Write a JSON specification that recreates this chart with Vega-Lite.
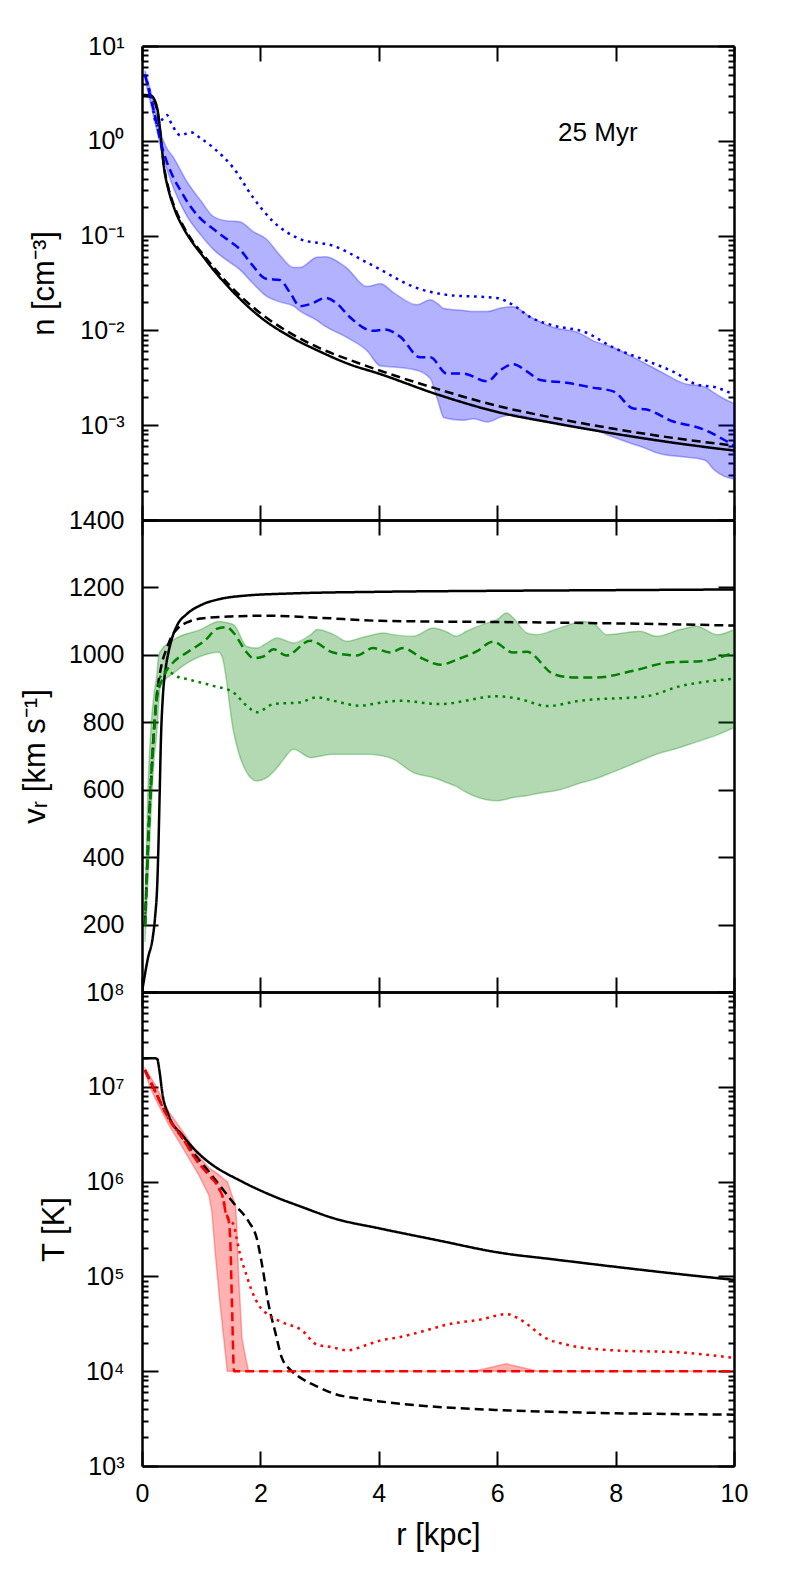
{
  "$schema": "https://vega.github.io/schema/vega-lite/v6.json",
  "autosize": {"type": "pad"},
  "padding": {"left": 19, "top": 34, "right": 5, "bottom": 5},
  "config": {
    "font": "Liberation Sans",
    "view": {"stroke": null},
    "axis": {
      "grid": false,
      "domainColor": "black",
      "domainWidth": 2.5,
      "tickColor": "black",
      "tickWidth": 2,
      "labelFont": "Liberation Sans",
      "labelFontSize": 25,
      "labelColor": "black",
      "labelFlush": false,
      "labelOverlap": false,
      "titleFont": "Liberation Sans",
      "titleFontSize": 31,
      "titleFontWeight": "normal",
      "titleColor": "black"
    }
  },
  "resolve": {"scale": {"color": "independent", "strokeDash": "independent"}},
  "datasets": {
    "nlines": [
      {"x": 0, "y": 3.05, "s": "a"}, {"x": 0.15, "y": 3.0, "s": "a"}, {"x": 0.25, "y": 2.3, "s": "a"}, {"x": 0.3, "y": 1.4, "s": "a"}, {"x": 0.33, "y": 0.9, "s": "a"}, {"x": 0.37, "y": 0.53, "s": "a"}, {"x": 0.45, "y": 0.3, "s": "a"}, {"x": 0.55, "y": 0.19, "s": "a"}, {"x": 0.7, "y": 0.12, "s": "a"}, {"x": 0.85, "y": 0.085, "s": "a"}, {"x": 1.0, "y": 0.064, "s": "a"}, {"x": 1.2, "y": 0.044, "s": "a"}, {"x": 1.5, "y": 0.027, "s": "a"}, {"x": 2.0, "y": 0.0138, "s": "a"}, {"x": 2.5, "y": 0.0086, "s": "a"}, {"x": 3.0, "y": 0.006, "s": "a"}, {"x": 3.5, "y": 0.0044, "s": "a"}, {"x": 4.0, "y": 0.0035, "s": "a"}, {"x": 5.0, "y": 0.0021, "s": "a"}, {"x": 6.0, "y": 0.00138, "s": "a"}, {"x": 7.0, "y": 0.00104, "s": "a"}, {"x": 8.0, "y": 0.00081, "s": "a"}, {"x": 9.0, "y": 0.00065, "s": "a"}, {"x": 10, "y": 0.00054, "s": "a"},
      {"x": 0, "y": 3.0, "s": "b"}, {"x": 0.15, "y": 2.9, "s": "b"}, {"x": 0.25, "y": 2.2, "s": "b"}, {"x": 0.3, "y": 1.35, "s": "b"}, {"x": 0.33, "y": 0.9, "s": "b"}, {"x": 0.37, "y": 0.55, "s": "b"}, {"x": 0.45, "y": 0.31, "s": "b"}, {"x": 0.55, "y": 0.2, "s": "b"}, {"x": 0.7, "y": 0.125, "s": "b"}, {"x": 0.85, "y": 0.088, "s": "b"}, {"x": 1.0, "y": 0.067, "s": "b"}, {"x": 1.2, "y": 0.047, "s": "b"}, {"x": 1.5, "y": 0.029, "s": "b"}, {"x": 2.0, "y": 0.0152, "s": "b"}, {"x": 2.5, "y": 0.0094, "s": "b"}, {"x": 3.0, "y": 0.0065, "s": "b"}, {"x": 3.5, "y": 0.0049, "s": "b"}, {"x": 4.0, "y": 0.0038, "s": "b"}, {"x": 5.0, "y": 0.0024, "s": "b"}, {"x": 6.0, "y": 0.0016, "s": "b"}, {"x": 7.0, "y": 0.00118, "s": "b"}, {"x": 8.0, "y": 0.00091, "s": "b"}, {"x": 9.0, "y": 0.00073, "s": "b"}, {"x": 10, "y": 0.00061, "s": "b"},
      {"x": 0.05, "y": 5.0, "s": "c"}, {"x": 0.15, "y": 2.8, "s": "c"}, {"x": 0.25, "y": 1.5, "s": "c"}, {"x": 0.31, "y": 1.0, "s": "c"}, {"x": 0.4, "y": 0.65, "s": "c"}, {"x": 0.53, "y": 0.41, "s": "c"}, {"x": 0.65, "y": 0.3, "s": "c"}, {"x": 0.76, "y": 0.23, "s": "c"}, {"x": 0.95, "y": 0.16, "s": "c"}, {"x": 1.2, "y": 0.118, "s": "c"}, {"x": 1.45, "y": 0.09, "s": "c"}, {"x": 1.65, "y": 0.072, "s": "c"}, {"x": 1.85, "y": 0.05, "s": "c"}, {"x": 2.1, "y": 0.035, "s": "c"}, {"x": 2.33, "y": 0.034, "s": "c"}, {"x": 2.5, "y": 0.025, "s": "c"}, {"x": 2.67, "y": 0.018, "s": "c"}, {"x": 2.85, "y": 0.019, "s": "c"}, {"x": 3.1, "y": 0.022, "s": "c"}, {"x": 3.3, "y": 0.019, "s": "c"}, {"x": 3.5, "y": 0.014, "s": "c"}, {"x": 3.9, "y": 0.0099, "s": "c"}, {"x": 4.1, "y": 0.0102, "s": "c"}, {"x": 4.36, "y": 0.0086, "s": "c"}, {"x": 4.7, "y": 0.0052, "s": "c"}, {"x": 4.87, "y": 0.0052, "s": "c"}, {"x": 5.15, "y": 0.0035, "s": "c"}, {"x": 5.43, "y": 0.0035, "s": "c"}, {"x": 5.83, "y": 0.0029, "s": "c"}, {"x": 6.05, "y": 0.0038, "s": "c"}, {"x": 6.27, "y": 0.0044, "s": "c"}, {"x": 6.5, "y": 0.0037, "s": "c"}, {"x": 6.73, "y": 0.003, "s": "c"}, {"x": 7.18, "y": 0.0028, "s": "c"}, {"x": 7.6, "y": 0.0025, "s": "c"}, {"x": 7.97, "y": 0.00226, "s": "c"}, {"x": 8.3, "y": 0.0015, "s": "c"}, {"x": 8.5, "y": 0.00147, "s": "c"}, {"x": 8.96, "y": 0.0011, "s": "c"}, {"x": 9.47, "y": 0.00091, "s": "c"}, {"x": 9.8, "y": 0.00072, "s": "c"}, {"x": 10, "y": 0.00061, "s": "c"},
      {"x": 0.05, "y": 5.0, "s": "d"}, {"x": 0.15, "y": 3.0, "s": "d"}, {"x": 0.25, "y": 1.45, "s": "d"}, {"x": 0.35, "y": 1.7, "s": "d"}, {"x": 0.42, "y": 1.87, "s": "d"}, {"x": 0.5, "y": 1.5, "s": "d"}, {"x": 0.65, "y": 1.14, "s": "d"}, {"x": 0.82, "y": 1.23, "s": "d"}, {"x": 1.0, "y": 1.05, "s": "d"}, {"x": 1.2, "y": 0.85, "s": "d"}, {"x": 1.54, "y": 0.52, "s": "d"}, {"x": 1.88, "y": 0.25, "s": "d"}, {"x": 2.22, "y": 0.14, "s": "d"}, {"x": 2.67, "y": 0.092, "s": "d"}, {"x": 3.23, "y": 0.078, "s": "d"}, {"x": 3.8, "y": 0.052, "s": "d"}, {"x": 4.02, "y": 0.044, "s": "d"}, {"x": 4.58, "y": 0.029, "s": "d"}, {"x": 5.15, "y": 0.0237, "s": "d"}, {"x": 5.99, "y": 0.022, "s": "d"}, {"x": 6.3, "y": 0.018, "s": "d"}, {"x": 6.55, "y": 0.0139, "s": "d"}, {"x": 6.94, "y": 0.0113, "s": "d"}, {"x": 7.5, "y": 0.0095, "s": "d"}, {"x": 7.96, "y": 0.0066, "s": "d"}, {"x": 8.52, "y": 0.0048, "s": "d"}, {"x": 9.0, "y": 0.0036, "s": "d"}, {"x": 9.36, "y": 0.0027, "s": "d"}, {"x": 9.7, "y": 0.0025, "s": "d"}, {"x": 10, "y": 0.0021, "s": "d"}
    ],
    "nband": [
      {"x": 0.05, "lo": 4.5, "hi": 5.5}, {"x": 0.15, "lo": 2.4, "hi": 3.3}, {"x": 0.25, "lo": 1.3, "hi": 1.8}, {"x": 0.31, "lo": 0.9, "hi": 1.25}, {"x": 0.4, "lo": 0.55, "hi": 0.88}, {"x": 0.53, "lo": 0.32, "hi": 0.67}, {"x": 0.76, "lo": 0.16, "hi": 0.37}, {"x": 1.0, "lo": 0.1, "hi": 0.23}, {"x": 1.2, "lo": 0.072, "hi": 0.16}, {"x": 1.43, "lo": 0.055, "hi": 0.143}, {"x": 1.65, "lo": 0.044, "hi": 0.14}, {"x": 1.88, "lo": 0.031, "hi": 0.11}, {"x": 2.1, "lo": 0.023, "hi": 0.092}, {"x": 2.33, "lo": 0.02, "hi": 0.062}, {"x": 2.56, "lo": 0.018, "hi": 0.046}, {"x": 2.67, "lo": 0.016, "hi": 0.046}, {"x": 2.95, "lo": 0.0128, "hi": 0.059}, {"x": 3.1, "lo": 0.011, "hi": 0.06}, {"x": 3.45, "lo": 0.0085, "hi": 0.046}, {"x": 3.8, "lo": 0.0061, "hi": 0.029}, {"x": 4.03, "lo": 0.0042, "hi": 0.031}, {"x": 4.25, "lo": 0.0041, "hi": 0.025}, {"x": 4.64, "lo": 0.0038, "hi": 0.0186}, {"x": 4.87, "lo": 0.0031, "hi": 0.021}, {"x": 5.0, "lo": 0.0018, "hi": 0.019}, {"x": 5.1, "lo": 0.0012, "hi": 0.017}, {"x": 5.43, "lo": 0.00113, "hi": 0.0162}, {"x": 5.6, "lo": 0.00117, "hi": 0.0158}, {"x": 5.83, "lo": 0.00108, "hi": 0.0158}, {"x": 6.06, "lo": 0.00122, "hi": 0.0172}, {"x": 6.27, "lo": 0.0013, "hi": 0.0178}, {"x": 6.55, "lo": 0.0012, "hi": 0.014}, {"x": 6.94, "lo": 0.00106, "hi": 0.0108}, {"x": 7.4, "lo": 0.00095, "hi": 0.0093}, {"x": 7.62, "lo": 0.0009, "hi": 0.0078}, {"x": 7.96, "lo": 0.00075, "hi": 0.0066}, {"x": 8.3, "lo": 0.00063, "hi": 0.0052}, {"x": 8.41, "lo": 0.0006, "hi": 0.0048}, {"x": 8.75, "lo": 0.0005, "hi": 0.0037}, {"x": 9.2, "lo": 0.00046, "hi": 0.0027}, {"x": 9.43, "lo": 0.00044, "hi": 0.0026}, {"x": 9.53, "lo": 0.00042, "hi": 0.0025}, {"x": 9.66, "lo": 0.00034, "hi": 0.0022}, {"x": 9.83, "lo": 0.00029, "hi": 0.0019}, {"x": 10, "lo": 0.00027, "hi": 0.0017}
    ],
    "nlabel": [{"x": 7.7, "y": 0.985, "t": "25 Myr"}],
    "vlines": [
      {"x": 0, "y": 0, "s": "a"}, {"x": 0.1, "y": 100, "s": "a"}, {"x": 0.18, "y": 160, "s": "a"}, {"x": 0.22, "y": 220, "s": "a"}, {"x": 0.26, "y": 330, "s": "a"}, {"x": 0.28, "y": 450, "s": "a"}, {"x": 0.3, "y": 600, "s": "a"}, {"x": 0.32, "y": 750, "s": "a"}, {"x": 0.35, "y": 870, "s": "a"}, {"x": 0.4, "y": 960, "s": "a"}, {"x": 0.45, "y": 1010, "s": "a"}, {"x": 0.5, "y": 1045, "s": "a"}, {"x": 0.6, "y": 1090, "s": "a"}, {"x": 0.75, "y": 1120, "s": "a"}, {"x": 1.0, "y": 1148, "s": "a"}, {"x": 1.3, "y": 1165, "s": "a"}, {"x": 1.7, "y": 1175, "s": "a"}, {"x": 2.5, "y": 1182, "s": "a"}, {"x": 4.0, "y": 1187, "s": "a"}, {"x": 6.0, "y": 1190, "s": "a"}, {"x": 8.0, "y": 1192, "s": "a"}, {"x": 10, "y": 1194, "s": "a"},
      {"x": 0.05, "y": 200, "s": "b"}, {"x": 0.113, "y": 480, "s": "b"}, {"x": 0.17, "y": 680, "s": "b"}, {"x": 0.25, "y": 880, "s": "b"}, {"x": 0.33, "y": 970, "s": "b"}, {"x": 0.42, "y": 1020, "s": "b"}, {"x": 0.5, "y": 1055, "s": "b"}, {"x": 0.6, "y": 1078, "s": "b"}, {"x": 0.76, "y": 1096, "s": "b"}, {"x": 1.0, "y": 1108, "s": "b"}, {"x": 1.5, "y": 1114, "s": "b"}, {"x": 2.1, "y": 1116, "s": "b"}, {"x": 3.0, "y": 1110, "s": "b"}, {"x": 4.02, "y": 1101, "s": "b"}, {"x": 6.84, "y": 1096, "s": "b"}, {"x": 8.5, "y": 1092, "s": "b"}, {"x": 10, "y": 1087, "s": "b"},
      {"x": 0.056, "y": 197, "s": "c"}, {"x": 0.113, "y": 473, "s": "c"}, {"x": 0.17, "y": 670, "s": "c"}, {"x": 0.25, "y": 868, "s": "c"}, {"x": 0.37, "y": 938, "s": "c"}, {"x": 0.53, "y": 978, "s": "c"}, {"x": 0.76, "y": 1007, "s": "c"}, {"x": 1.09, "y": 1047, "s": "c"}, {"x": 1.26, "y": 1077, "s": "c"}, {"x": 1.43, "y": 1082, "s": "c"}, {"x": 1.54, "y": 1067, "s": "c"}, {"x": 1.77, "y": 1007, "s": "c"}, {"x": 1.88, "y": 990, "s": "c"}, {"x": 2.05, "y": 995, "s": "c"}, {"x": 2.22, "y": 1017, "s": "c"}, {"x": 2.44, "y": 998, "s": "c"}, {"x": 2.84, "y": 1042, "s": "c"}, {"x": 3.23, "y": 1007, "s": "c"}, {"x": 3.63, "y": 998, "s": "c"}, {"x": 3.9, "y": 1020, "s": "c"}, {"x": 4.19, "y": 1007, "s": "c"}, {"x": 4.41, "y": 1020, "s": "c"}, {"x": 4.75, "y": 988, "s": "c"}, {"x": 5.04, "y": 971, "s": "c"}, {"x": 5.38, "y": 990, "s": "c"}, {"x": 5.65, "y": 1010, "s": "c"}, {"x": 5.93, "y": 1039, "s": "c"}, {"x": 6.27, "y": 1007, "s": "c"}, {"x": 6.5, "y": 1009, "s": "c"}, {"x": 6.95, "y": 943, "s": "c"}, {"x": 7.28, "y": 933, "s": "c"}, {"x": 7.68, "y": 933, "s": "c"}, {"x": 8.3, "y": 953, "s": "c"}, {"x": 8.92, "y": 978, "s": "c"}, {"x": 9.43, "y": 981, "s": "c"}, {"x": 10, "y": 1007, "s": "c"},
      {"x": 0.056, "y": 230, "s": "d"}, {"x": 0.113, "y": 500, "s": "d"}, {"x": 0.17, "y": 700, "s": "d"}, {"x": 0.25, "y": 880, "s": "d"}, {"x": 0.31, "y": 935, "s": "d"}, {"x": 0.42, "y": 952, "s": "d"}, {"x": 0.6, "y": 935, "s": "d"}, {"x": 0.76, "y": 928, "s": "d"}, {"x": 1.2, "y": 908, "s": "d"}, {"x": 1.54, "y": 889, "s": "d"}, {"x": 1.77, "y": 849, "s": "d"}, {"x": 1.94, "y": 830, "s": "d"}, {"x": 2.22, "y": 854, "s": "d"}, {"x": 2.67, "y": 859, "s": "d"}, {"x": 2.95, "y": 874, "s": "d"}, {"x": 3.23, "y": 864, "s": "d"}, {"x": 3.68, "y": 849, "s": "d"}, {"x": 4.02, "y": 858, "s": "d"}, {"x": 4.36, "y": 864, "s": "d"}, {"x": 5.03, "y": 854, "s": "d"}, {"x": 5.99, "y": 877, "s": "d"}, {"x": 6.38, "y": 869, "s": "d"}, {"x": 6.84, "y": 848, "s": "d"}, {"x": 7.4, "y": 864, "s": "d"}, {"x": 8.52, "y": 877, "s": "d"}, {"x": 9.09, "y": 907, "s": "d"}, {"x": 10, "y": 929, "s": "d"}
    ],
    "vband": [
      {"x": 0.05, "lo": 148, "hi": 250}, {"x": 0.1, "lo": 330, "hi": 600}, {"x": 0.15, "lo": 520, "hi": 780}, {"x": 0.2, "lo": 680, "hi": 880}, {"x": 0.25, "lo": 769, "hi": 940}, {"x": 0.28, "lo": 850, "hi": 996}, {"x": 0.31, "lo": 907, "hi": 1010}, {"x": 0.535, "lo": 946, "hi": 1045}, {"x": 0.99, "lo": 996, "hi": 1075}, {"x": 1.3, "lo": 1008, "hi": 1099}, {"x": 1.35, "lo": 996, "hi": 1098}, {"x": 1.55, "lo": 769, "hi": 1089}, {"x": 1.77, "lo": 651, "hi": 1025}, {"x": 1.94, "lo": 626, "hi": 1020}, {"x": 2.11, "lo": 636, "hi": 1035}, {"x": 2.28, "lo": 665, "hi": 1050}, {"x": 2.39, "lo": 690, "hi": 1045}, {"x": 2.56, "lo": 720, "hi": 1035}, {"x": 2.85, "lo": 695, "hi": 1060}, {"x": 2.96, "lo": 698, "hi": 1075}, {"x": 3.24, "lo": 705, "hi": 1060}, {"x": 3.46, "lo": 705, "hi": 1040}, {"x": 3.69, "lo": 705, "hi": 1050}, {"x": 3.8, "lo": 705, "hi": 1055}, {"x": 4.08, "lo": 700, "hi": 1065}, {"x": 4.25, "lo": 690, "hi": 1060}, {"x": 4.58, "lo": 651, "hi": 1055}, {"x": 4.92, "lo": 636, "hi": 1080}, {"x": 5.15, "lo": 621, "hi": 1068}, {"x": 5.31, "lo": 610, "hi": 1055}, {"x": 5.48, "lo": 592, "hi": 1070}, {"x": 5.82, "lo": 570, "hi": 1094}, {"x": 5.99, "lo": 567, "hi": 1104}, {"x": 6.16, "lo": 572, "hi": 1124}, {"x": 6.27, "lo": 577, "hi": 1110}, {"x": 6.5, "lo": 582, "hi": 1065}, {"x": 6.66, "lo": 588, "hi": 1060}, {"x": 7.06, "lo": 600, "hi": 1080}, {"x": 7.45, "lo": 622, "hi": 1099}, {"x": 7.62, "lo": 630, "hi": 1094}, {"x": 7.85, "lo": 645, "hi": 1060}, {"x": 8.41, "lo": 685, "hi": 1070}, {"x": 8.69, "lo": 705, "hi": 1055}, {"x": 9.09, "lo": 725, "hi": 1075}, {"x": 9.37, "lo": 742, "hi": 1085}, {"x": 9.71, "lo": 762, "hi": 1060}, {"x": 10, "lo": 784, "hi": 1075}
    ],
    "tlines": [
      {"x": 0, "y": 20000000, "s": "a"}, {"x": 0.22, "y": 20000000, "s": "a"}, {"x": 0.26, "y": 19500000, "s": "a"}, {"x": 0.28, "y": 17000000, "s": "a"}, {"x": 0.3, "y": 14000000, "s": "a"}, {"x": 0.34, "y": 8900000, "s": "a"}, {"x": 0.45, "y": 5000000, "s": "a"}, {"x": 0.68, "y": 3100000, "s": "a"}, {"x": 1.0, "y": 1870000, "s": "a"}, {"x": 1.13, "y": 1600000, "s": "a"}, {"x": 1.69, "y": 1000000, "s": "a"}, {"x": 2.25, "y": 690000, "s": "a"}, {"x": 2.7, "y": 540000, "s": "a"}, {"x": 3.24, "y": 410000, "s": "a"}, {"x": 4.02, "y": 320000, "s": "a"}, {"x": 5.0, "y": 240000, "s": "a"}, {"x": 5.99, "y": 180000, "s": "a"}, {"x": 7.0, "y": 150000, "s": "a"}, {"x": 7.96, "y": 127000, "s": "a"}, {"x": 9.0, "y": 107000, "s": "a"}, {"x": 10, "y": 92000, "s": "a"},
      {"x": 0.05, "y": 15000000, "s": "b"}, {"x": 0.225, "y": 8900000, "s": "b"}, {"x": 0.45, "y": 4700000, "s": "b"}, {"x": 0.68, "y": 2900000, "s": "b"}, {"x": 0.9, "y": 1900000, "s": "b"}, {"x": 1.13, "y": 1270000, "s": "b"}, {"x": 1.35, "y": 850000, "s": "b"}, {"x": 1.58, "y": 560000, "s": "b"}, {"x": 1.8, "y": 380000, "s": "b"}, {"x": 1.94, "y": 250000, "s": "b"}, {"x": 2.03, "y": 130000, "s": "b"}, {"x": 2.14, "y": 50000, "s": "b"}, {"x": 2.25, "y": 26000, "s": "b"}, {"x": 2.36, "y": 14000, "s": "b"}, {"x": 2.53, "y": 10000, "s": "b"}, {"x": 2.68, "y": 8500, "s": "b"}, {"x": 3.0, "y": 6700, "s": "b"}, {"x": 3.24, "y": 5800, "s": "b"}, {"x": 3.7, "y": 5100, "s": "b"}, {"x": 4.02, "y": 4800, "s": "b"}, {"x": 5.0, "y": 4200, "s": "b"}, {"x": 6.0, "y": 3900, "s": "b"}, {"x": 7.0, "y": 3720, "s": "b"}, {"x": 8.0, "y": 3600, "s": "b"}, {"x": 9.0, "y": 3530, "s": "b"}, {"x": 10, "y": 3480, "s": "b"},
      {"x": 0.05, "y": 15000000, "s": "c"}, {"x": 0.225, "y": 8900000, "s": "c"}, {"x": 0.45, "y": 4600000, "s": "c"}, {"x": 0.68, "y": 2900000, "s": "c"}, {"x": 0.9, "y": 1750000, "s": "c"}, {"x": 1.13, "y": 1170000, "s": "c"}, {"x": 1.3, "y": 850000, "s": "c"}, {"x": 1.38, "y": 620000, "s": "c"}, {"x": 1.41, "y": 480000, "s": "c"}, {"x": 1.46, "y": 400000, "s": "c"}, {"x": 1.49, "y": 250000, "s": "c"}, {"x": 1.52, "y": 50000, "s": "c"}, {"x": 1.555, "y": 10000, "s": "c"}, {"x": 10, "y": 10000, "s": "c"},
      {"x": 0.05, "y": 15000000, "s": "d"}, {"x": 0.225, "y": 8900000, "s": "d"}, {"x": 0.45, "y": 4600000, "s": "d"}, {"x": 0.68, "y": 2900000, "s": "d"}, {"x": 0.9, "y": 1750000, "s": "d"}, {"x": 1.13, "y": 1170000, "s": "d"}, {"x": 1.3, "y": 850000, "s": "d"}, {"x": 1.38, "y": 620000, "s": "d"}, {"x": 1.41, "y": 480000, "s": "d"}, {"x": 1.46, "y": 400000, "s": "d"}, {"x": 1.5, "y": 380000, "s": "d"}, {"x": 1.55, "y": 350000, "s": "d"}, {"x": 1.6, "y": 250000, "s": "d"}, {"x": 1.66, "y": 167000, "s": "d"}, {"x": 1.75, "y": 110000, "s": "d"}, {"x": 1.86, "y": 69000, "s": "d"}, {"x": 1.97, "y": 50000, "s": "d"}, {"x": 2.14, "y": 39000, "s": "d"}, {"x": 2.36, "y": 33000, "s": "d"}, {"x": 2.7, "y": 27000, "s": "d"}, {"x": 2.96, "y": 19000, "s": "d"}, {"x": 3.2, "y": 18000, "s": "d"}, {"x": 3.46, "y": 16600, "s": "d"}, {"x": 3.8, "y": 19000, "s": "d"}, {"x": 4.02, "y": 21000, "s": "d"}, {"x": 4.37, "y": 23000, "s": "d"}, {"x": 4.8, "y": 27000, "s": "d"}, {"x": 5.15, "y": 31000, "s": "d"}, {"x": 5.71, "y": 35000, "s": "d"}, {"x": 6.17, "y": 40000, "s": "d"}, {"x": 6.39, "y": 35000, "s": "d"}, {"x": 6.84, "y": 22000, "s": "d"}, {"x": 7.18, "y": 19000, "s": "d"}, {"x": 7.96, "y": 16600, "s": "d"}, {"x": 9.09, "y": 15800, "s": "d"}, {"x": 10, "y": 13800, "s": "d"}
    ],
    "tband": [
      {"x": 0.05, "lo": 14000000, "hi": 15600000}, {"x": 0.15, "lo": 9500000, "hi": 12500000}, {"x": 0.225, "lo": 7500000, "hi": 10500000}, {"x": 0.45, "lo": 4000000, "hi": 5500000}, {"x": 0.73, "lo": 2050000, "hi": 3100000}, {"x": 0.96, "lo": 1170000, "hi": 1850000}, {"x": 1.13, "lo": 720000, "hi": 1400000}, {"x": 1.18, "lo": 480000, "hi": 1330000}, {"x": 1.24, "lo": 167000, "hi": 1260000}, {"x": 1.32, "lo": 50000, "hi": 1150000}, {"x": 1.41, "lo": 15000, "hi": 1030000}, {"x": 1.44, "lo": 10000, "hi": 1000000}, {"x": 1.52, "lo": 10000, "hi": 720000}, {"x": 1.58, "lo": 10000, "hi": 560000}, {"x": 1.6, "lo": 10000, "hi": 350000}, {"x": 1.63, "lo": 10000, "hi": 110000}, {"x": 1.69, "lo": 10000, "hi": 22000}, {"x": 1.75, "lo": 10000, "hi": 14000}, {"x": 1.8, "lo": 10000, "hi": 10000}, {"x": 5.6, "lo": 10000, "hi": 10000}, {"x": 5.9, "lo": 10000, "hi": 11000}, {"x": 6.15, "lo": 10000, "hi": 12000}, {"x": 6.4, "lo": 10000, "hi": 11000}, {"x": 6.7, "lo": 10000, "hi": 10000}, {"x": 10, "lo": 10000, "hi": 10000}
    ]
  },
  "spacing": 0,
  "bounds": "flush",
  "vconcat": [
    {
      "width": 592,
      "height": 474,
      "resolve": {"axis": {"x": "independent", "y": "independent"}},
      "layer": [
        {
          "data": {"name": "nband"},
          "mark": {"type": "area", "color": "#0000ff", "fillOpacity": 0.3, "stroke": "#0000ff", "strokeOpacity": 0.3, "strokeWidth": 1.5, "interpolate": "monotone", "clip": true},
          "encoding": {
            "x": {"field": "x", "type": "quantitative", "scale": {"domain": [0, 10], "nice": false, "zero": false},
              "axis": {"orient": "bottom", "values": [0, 2, 4, 6, 8, 10], "tickSize": -15, "labels": false, "title": null}},
            "y": {"field": "lo", "type": "quantitative", "scale": {"type": "log", "domain": [0.0001, 10], "nice": false},
              "axis": {"orient": "left",
                "values": [0.0001, 0.0002, 0.0003, 0.0004, 0.0005, 0.0006, 0.0007, 0.0008, 0.0009, 0.001, 0.002, 0.003, 0.004, 0.005, 0.006, 0.007, 0.008, 0.009, 0.01, 0.02, 0.03, 0.04, 0.05, 0.06, 0.07, 0.08, 0.09, 0.1, 0.2, 0.3, 0.4, 0.5, 0.6, 0.7, 0.8, 0.9, 1, 2, 3, 4, 5, 6, 7, 8, 9, 10],
                "tickSize": {"condition": {"test": "indexof([0.0001, 0.001, 0.01, 0.1, 1, 10], datum.value) >= 0", "value": -16}, "value": -6},
                "labelPadding": 34,
                "labelExpr": "datum.value == 10 ? '10¹' : datum.value == 1 ? '10⁰' : datum.value == 0.1 ? '10⁻¹' : datum.value == 0.01 ? '10⁻²' : datum.value == 0.001 ? '10⁻³' : ''",
                "title": "n [cm⁻³]", "titleX": -89, "titleY": 237, "titleAngle": -90, "titleAlign": "center", "titleBaseline": "alphabetic"}},
            "y2": {"field": "hi"}
          }
        },
        {
          "data": {"name": "nlines"},
          "mark": {"type": "line", "strokeWidth": 2.5, "interpolate": "monotone", "clip": true},
          "encoding": {
            "x": {"field": "x", "type": "quantitative", "scale": {"domain": [0, 10], "nice": false, "zero": false},
              "axis": {"orient": "top", "values": [0, 2, 4, 6, 8, 10], "tickSize": -15, "labels": false, "title": null}},
            "y": {"field": "y", "type": "quantitative", "scale": {"type": "log", "domain": [0.0001, 10], "nice": false},
              "axis": {"orient": "right",
                "values": [0.0001, 0.0002, 0.0003, 0.0004, 0.0005, 0.0006, 0.0007, 0.0008, 0.0009, 0.001, 0.002, 0.003, 0.004, 0.005, 0.006, 0.007, 0.008, 0.009, 0.01, 0.02, 0.03, 0.04, 0.05, 0.06, 0.07, 0.08, 0.09, 0.1, 0.2, 0.3, 0.4, 0.5, 0.6, 0.7, 0.8, 0.9, 1, 2, 3, 4, 5, 6, 7, 8, 9, 10],
                "tickSize": {"condition": {"test": "indexof([0.0001, 0.001, 0.01, 0.1, 1, 10], datum.value) >= 0", "value": -16}, "value": -6},
                "labels": false, "title": null}},
            "color": {"field": "s", "type": "nominal", "scale": {"domain": ["a", "b", "c", "d"], "range": ["#000000", "#000000", "#0000ff", "#0000ff"]}, "legend": null},
            "strokeDash": {"field": "s", "type": "nominal", "scale": {"domain": ["a", "b", "c", "d"], "range": [[1, 0], [9, 5], [9, 5], [2.7, 4.7]]}, "legend": null}
          }
        },
        {
          "data": {"name": "nlabel"},
          "mark": {"type": "text", "font": "Liberation Sans", "fontSize": 26, "align": "center", "baseline": "alphabetic", "color": "#000000"},
          "encoding": {
            "x": {"field": "x", "type": "quantitative", "scale": {"domain": [0, 10], "nice": false, "zero": false}, "axis": null},
            "y": {"field": "y", "type": "quantitative", "scale": {"type": "log", "domain": [0.0001, 10], "nice": false}, "axis": null},
            "text": {"field": "t"}
          }
        }
      ]
    },
    {
      "width": 592,
      "height": 472,
      "resolve": {"axis": {"x": "independent", "y": "independent"}},
      "layer": [
        {
          "data": {"name": "vband"},
          "mark": {"type": "area", "color": "#008000", "fillOpacity": 0.3, "stroke": "#008000", "strokeOpacity": 0.3, "strokeWidth": 1.5, "interpolate": "monotone", "clip": true},
          "encoding": {
            "x": {"field": "x", "type": "quantitative", "scale": {"domain": [0, 10], "nice": false, "zero": false},
              "axis": {"orient": "bottom", "values": [0, 2, 4, 6, 8, 10], "tickSize": -15, "labels": false, "title": null}},
            "y": {"field": "lo", "type": "quantitative", "scale": {"domain": [0, 1400], "nice": false, "zero": false},
              "axis": {"orient": "left", "values": [0, 200, 400, 600, 800, 1000, 1200, 1400], "tickSize": -16, "labelPadding": 34, "format": "d",
                "labelExpr": "datum.value == 0 ? '' : datum.label",
                "title": "vᵣ [km s⁻¹]", "titleX": -98, "titleY": 236, "titleAngle": -90, "titleAlign": "center", "titleBaseline": "alphabetic"}},
            "y2": {"field": "hi"}
          }
        },
        {
          "data": {"name": "vlines"},
          "mark": {"type": "line", "strokeWidth": 2.5, "interpolate": "monotone", "clip": true},
          "encoding": {
            "x": {"field": "x", "type": "quantitative", "scale": {"domain": [0, 10], "nice": false, "zero": false},
              "axis": {"orient": "top", "values": [0, 2, 4, 6, 8, 10], "tickSize": -15, "labels": false, "title": null}},
            "y": {"field": "y", "type": "quantitative", "scale": {"domain": [0, 1400], "nice": false, "zero": false},
              "axis": {"orient": "right", "values": [0, 200, 400, 600, 800, 1000, 1200, 1400], "tickSize": -16, "labels": false, "title": null}},
            "color": {"field": "s", "type": "nominal", "scale": {"domain": ["a", "b", "c", "d"], "range": ["#000000", "#000000", "#008000", "#008000"]}, "legend": null},
            "strokeDash": {"field": "s", "type": "nominal", "scale": {"domain": ["a", "b", "c", "d"], "range": [[1, 0], [9, 5], [9, 5], [2.7, 4.7]]}, "legend": null}
          }
        }
      ]
    },
    {
      "width": 592,
      "height": 474,
      "resolve": {"axis": {"x": "independent", "y": "independent"}},
      "layer": [
        {
          "data": {"name": "tband"},
          "mark": {"type": "area", "color": "#ff0000", "fillOpacity": 0.3, "stroke": "#ff0000", "strokeOpacity": 0.3, "strokeWidth": 1.5, "clip": true},
          "encoding": {
            "x": {"field": "x", "type": "quantitative", "scale": {"domain": [0, 10], "nice": false, "zero": false},
              "axis": {"orient": "bottom", "values": [0, 2, 4, 6, 8, 10], "tickSize": -15, "labelPadding": 30, "title": "r [kpc]", "titleY": 78, "titleBaseline": "alphabetic"}},
            "y": {"field": "lo", "type": "quantitative", "scale": {"type": "log", "domain": [1000, 100000000], "nice": false},
              "axis": {"orient": "left",
                "values": [1000, 2000, 3000, 4000, 5000, 6000, 7000, 8000, 9000, 10000, 20000, 30000, 40000, 50000, 60000, 70000, 80000, 90000, 100000, 200000, 300000, 400000, 500000, 600000, 700000, 800000, 900000, 1000000, 2000000, 3000000, 4000000, 5000000, 6000000, 7000000, 8000000, 9000000, 10000000, 20000000, 30000000, 40000000, 50000000, 60000000, 70000000, 80000000, 90000000, 100000000],
                "tickSize": {"condition": {"test": "indexof([1000, 10000, 100000, 1000000, 10000000, 100000000], datum.value) >= 0", "value": -16}, "value": -6},
                "labelPadding": 34,
                "labelExpr": "datum.value == 1000 ? '10³' : datum.value == 10000 ? '10⁴' : datum.value == 100000 ? '10⁵' : datum.value == 1000000 ? '10⁶' : datum.value == 10000000 ? '10⁷' : datum.value == 100000000 ? '10⁸' : ''",
                "title": "T [K]", "titleX": -79, "titleY": 237, "titleAngle": -90, "titleAlign": "center", "titleBaseline": "alphabetic"}},
            "y2": {"field": "hi"}
          }
        },
        {
          "data": {"name": "tlines"},
          "mark": {"type": "line", "strokeWidth": 2.5, "interpolate": "monotone", "clip": true},
          "encoding": {
            "x": {"field": "x", "type": "quantitative", "scale": {"domain": [0, 10], "nice": false, "zero": false},
              "axis": {"orient": "top", "values": [0, 2, 4, 6, 8, 10], "tickSize": -15, "labels": false, "title": null}},
            "y": {"field": "y", "type": "quantitative", "scale": {"type": "log", "domain": [1000, 100000000], "nice": false},
              "axis": {"orient": "right",
                "values": [1000, 2000, 3000, 4000, 5000, 6000, 7000, 8000, 9000, 10000, 20000, 30000, 40000, 50000, 60000, 70000, 80000, 90000, 100000, 200000, 300000, 400000, 500000, 600000, 700000, 800000, 900000, 1000000, 2000000, 3000000, 4000000, 5000000, 6000000, 7000000, 8000000, 9000000, 10000000, 20000000, 30000000, 40000000, 50000000, 60000000, 70000000, 80000000, 90000000, 100000000],
                "tickSize": {"condition": {"test": "indexof([1000, 10000, 100000, 1000000, 10000000, 100000000], datum.value) >= 0", "value": -16}, "value": -6},
                "labels": false, "title": null}},
            "color": {"field": "s", "type": "nominal", "scale": {"domain": ["a", "b", "c", "d"], "range": ["#000000", "#000000", "#ff0000", "#ff0000"]}, "legend": null},
            "strokeDash": {"field": "s", "type": "nominal", "scale": {"domain": ["a", "b", "c", "d"], "range": [[1, 0], [9, 5], [9, 5], [2.7, 4.7]]}, "legend": null}
          }
        }
      ]
    }
  ]
}
